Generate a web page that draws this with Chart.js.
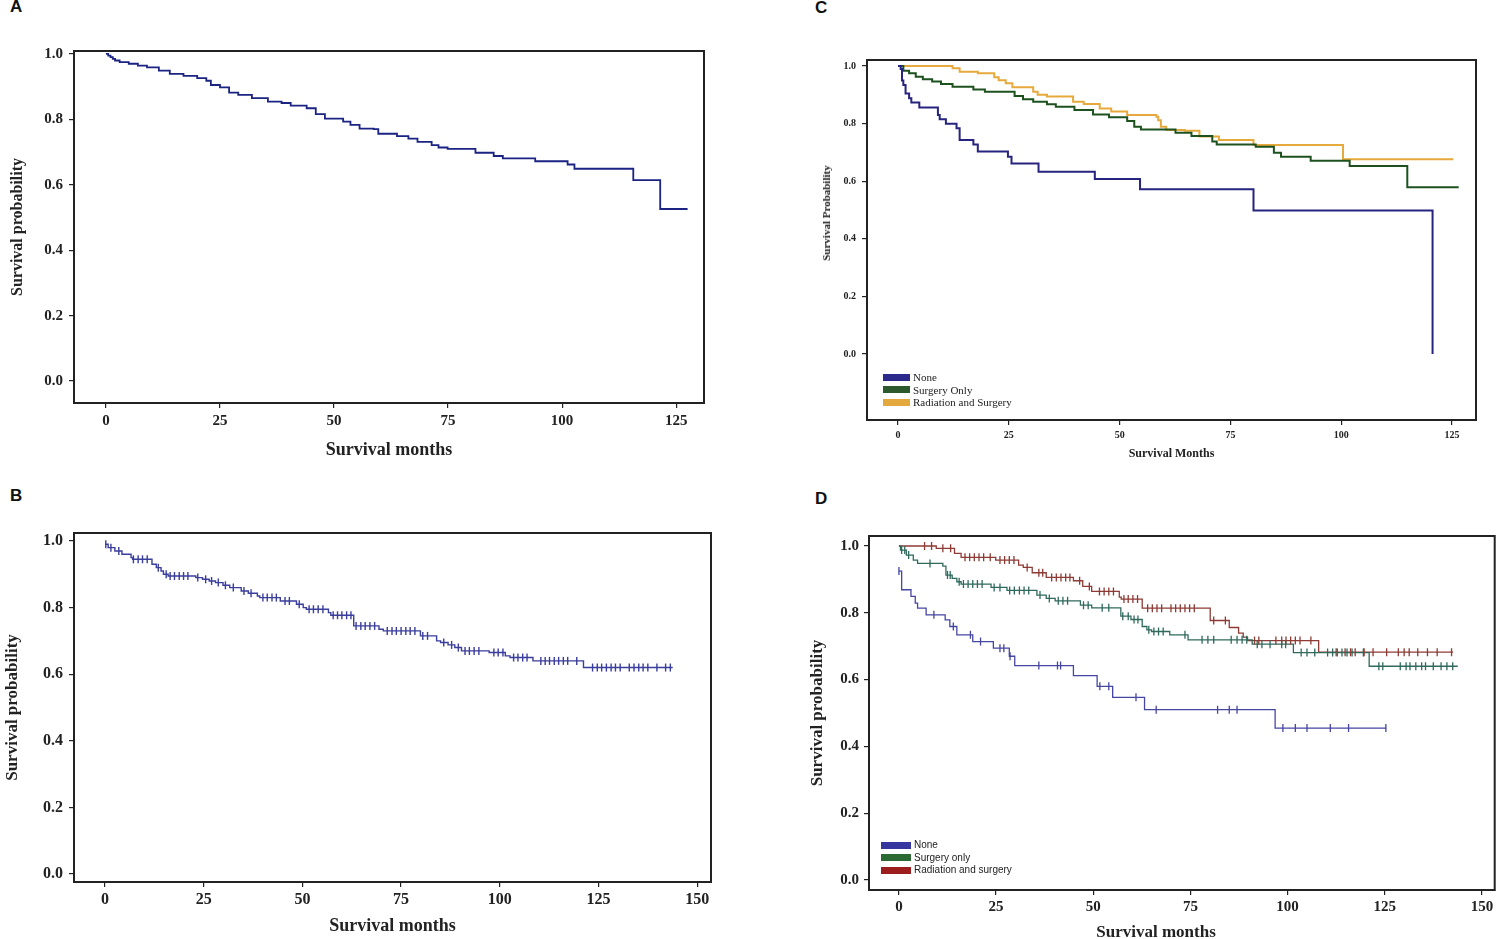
<!DOCTYPE html>
<html>
<head>
<meta charset="utf-8">
<script src="https://cdn.jsdelivr.net/npm/chart.js@4.4.1/dist/chart.umd.min.js"></script>
<style>
body{margin:0;width:1500px;height:939px;position:relative;overflow:hidden;background:#fff}
canvas{position:absolute}
.lbl{position:absolute;font-family:'Liberation Sans',Arial,sans-serif;font-weight:bold;font-size:17px;color:#111}
.leg{position:absolute;line-height:12.5px}
.leg div{display:flex;align-items:center;white-space:nowrap}
.leg span.sw{display:inline-block;height:7px;margin-right:3px}
.ttl{position:absolute;font-family:'Liberation Serif',serif;font-weight:bold;color:#222;white-space:nowrap;transform:translate(-50%,-50%)}
</style>
</head>
<body>
<div class="lbl" style="left:10px;top:-3px">A</div>
<div class="lbl" style="left:10px;top:486px">B</div>
<div class="lbl" style="left:815px;top:-2px">C</div>
<div class="lbl" style="left:815px;top:489px">D</div>
<canvas id="cA" width="720" height="450" style="left:0;top:30px"></canvas>
<canvas id="cB" width="720" height="439" style="left:0;top:500px"></canvas>
<canvas id="cC" width="700" height="445" style="left:800px;top:30px"></canvas>
<canvas id="cD" width="700" height="440" style="left:800px;top:505px"></canvas>
<div class="ttl" style="left:826px;top:213px;font-size:11px;transform:translate(-50%,-50%) rotate(-90deg)">Survival Probability</div>
<div class="ttl" style="left:1156px;top:932px;font-size:17px">Survival months</div>
<div class="leg" id="legC" style="left:883px;top:371px;font-family:'Liberation Serif',serif;font-size:11px;color:#222"></div>
<div class="leg" id="legD" style="left:881px;top:839px;font-family:'Liberation Sans',sans-serif;font-size:10px;color:#222"></div>
<script>
// tick labels
const xTicks125=[0,25,50,75,100,125];
const xTicks150=[0,25,50,75,100,125,150];
const yTicks=[0,0.2,0.4,0.6,0.8,1.0];

// A: overall survival
const aTime=[0,0.5,1,1.5,2,3,5,7,9,11.6,14,17,20,22,23,25,27,29,32,35.5,38.5,40.5,44,46,48,52,53.6,55.6,58.7,59.7,63.8,66.3,68.3,71.4,72.9,74.9,81,85,87,94.1,101.2,102.7,115.6,121.5,127.5];
const aSurv=[1.0,0.995,0.99,0.985,0.98,0.975,0.97,0.964,0.959,0.949,0.939,0.933,0.926,0.918,0.905,0.898,0.882,0.875,0.865,0.854,0.85,0.842,0.834,0.816,0.802,0.793,0.783,0.772,0.77,0.756,0.749,0.741,0.731,0.721,0.714,0.71,0.698,0.688,0.681,0.672,0.662,0.649,0.614,0.526,0.526];

// B: overall survival with censoring
const bTime=[0,0.8,2.5,4.3,6.6,7,11.9,13,14.2,14.8,16,23,24.7,26.4,28,29.9,31.6,34.5,36.3,38.6,39.2,44.4,48.5,50.2,51,56.6,57.2,63,69.4,70.5,79.9,84,85,86.9,88.6,90.3,97.3,101.4,102.6,108.4,121.2,143.8];
const bSurv=[0.99,0.98,0.97,0.96,0.95,0.945,0.93,0.92,0.91,0.90,0.895,0.89,0.885,0.88,0.875,0.867,0.86,0.85,0.843,0.835,0.83,0.82,0.81,0.80,0.795,0.785,0.777,0.745,0.735,0.73,0.715,0.70,0.695,0.688,0.68,0.67,0.665,0.655,0.65,0.64,0.62,0.62];
const bCens=[0.2,1.5,3.5,7.2,8.4,9.5,10.7,13.5,15.5,16.5,17.6,18.8,19.9,21,23.5,25.5,27,28.7,30.5,32.5,35.2,37,40,41.1,42.3,43.4,45.6,46.7,49.2,51.7,52.8,54,55.2,57.8,58.9,60,61.2,62.3,63.6,64.8,65.9,67.1,68.3,71.5,72.7,73.8,75,76.2,77.3,78.5,80.5,81.7,85.8,87.8,89.5,91.2,92.3,93.5,94.7,98.5,99.6,100.8,103.5,104.6,105.8,106.9,110.4,111.5,112.6,113.8,114.9,116.1,117.2,119.5,123.5,124.7,125.8,127,128.2,129.3,130.5,132.8,134,135.2,136.3,137.5,139.8,142,143.2];

// C: by treatment
const cNames=['None','Surgery Only','Radiation and Surgery'];
const cNoneTime=[0,0.6,0.9,1.2,1.7,2.5,3,4.8,9,9.4,10.8,13.2,13.9,17,18,24.8,25.6,31.7,44.4,54.6,80.2,120.6];
const cNoneSurv=[1.0,0.99,0.95,0.934,0.905,0.888,0.873,0.856,0.83,0.815,0.80,0.784,0.743,0.728,0.703,0.685,0.662,0.633,0.608,0.572,0.498,0.0];
const cSurgTime=[0,1.2,2.5,4,5.6,7.7,9.7,12.3,17,19.6,26.3,28.2,30.5,33.6,35.6,39.8,44,47.6,51.7,53.3,54.8,62.6,66.2,70.9,71.9,80.7,84.8,86.4,93.1,101.9,114.9,126.5];
const cSurgSurv=[1.0,0.984,0.975,0.963,0.954,0.946,0.938,0.928,0.919,0.911,0.896,0.885,0.876,0.867,0.859,0.847,0.832,0.822,0.809,0.789,0.78,0.768,0.757,0.738,0.728,0.72,0.699,0.685,0.671,0.653,0.579,0.579];
const cRadTime=[0,12.3,13.9,18,21.7,22.7,24.3,25.8,30.5,31.5,33.6,39.5,41.9,45.5,48.1,51.7,58.3,58.7,59.3,60.5,64.7,68,72.4,80.2,100.4,125.3];
const cRadSurv=[1.0,0.992,0.98,0.975,0.961,0.951,0.94,0.926,0.911,0.90,0.894,0.876,0.868,0.853,0.842,0.83,0.824,0.812,0.789,0.778,0.775,0.755,0.743,0.726,0.676,0.676];

// D: by treatment with censoring
const dNames=['None','Surgery only','Radiation and surgery'];
const dNoneTime=[0,0.7,3.1,4.2,4.8,7,11.9,13.1,14.9,19,24.3,28.4,29.8,44.9,51,55,63.2,96.8,125.4];
const dNoneSurv=[0.925,0.869,0.849,0.829,0.814,0.794,0.779,0.759,0.734,0.714,0.694,0.67,0.642,0.612,0.58,0.547,0.51,0.455,0.455];
const dNoneCens=[0,9,14,18.4,21,26,27,28.6,36,40.8,41.6,51.7,54,61,66.2,82,85,87,98.8,102,105,111,115.7,125.3];
const dSurgTime=[0,0.4,1.9,3.7,4.8,11.3,12.1,13.7,14.9,16,23.7,27.8,35.5,37.9,40.2,46.7,49.6,57.1,59.7,62.6,63.8,65,69.7,74.4,90.9,101.5,121,143.8];
const dSurgSurv=[1.0,0.988,0.973,0.958,0.948,0.94,0.913,0.903,0.893,0.886,0.876,0.867,0.853,0.843,0.836,0.823,0.815,0.79,0.78,0.759,0.749,0.744,0.734,0.719,0.706,0.681,0.64,0.64];
const dSurgCens=[0.7,1.5,2.5,8,12.5,13.2,15.5,16.6,17.8,19,20.2,21.4,24.5,26,28.5,29.7,31,32.2,33.4,36.3,38.7,41,42.2,43.4,47.5,48.7,52.3,54,57.6,59,60.5,61.5,64.3,65.6,66.8,68,73.6,78,79.5,81,85.5,87,88.3,89.5,92.2,93.4,95.5,98.5,99.5,103.5,105,107,110.3,111.6,112.8,114,115.3,116.6,119.5,123.5,124.5,129,130.5,131.5,133,134.5,135.5,137.5,139.5,141,142.5];
const dRadTime=[0,9.6,14.3,16,24.9,30.8,32,34.3,37.9,44.9,47.3,49.6,56.7,57.2,62.6,80.1,85,87.4,88.6,89.7,108,142.6];
const dRadSurv=[1.0,0.993,0.978,0.966,0.958,0.943,0.936,0.92,0.906,0.896,0.879,0.864,0.847,0.841,0.814,0.777,0.756,0.739,0.727,0.717,0.682,0.682];
const dRadCens=[6.6,8.4,11.3,13.3,17,18.2,19.4,20.6,21.8,23.5,26,27.2,28.4,29.6,33,36,37,39.3,40.5,41.7,42.9,44,46.5,49,51.6,52.8,54,55.2,57.9,59,60.2,61.4,64,65.2,66.4,67.6,70,71.2,72.4,73.6,74.8,76,81,84,91.5,92.6,97,98.5,99.6,100.8,102,103.2,106,112.5,114.8,116.2,117.4,119.7,122,125.5,128.5,130,131.3,133.5,136,138.5,142.2];

function km(t,s){return t.map((v,i)=>({x:v,y:s[i]}));}
function survAt(t,s,x){let r=s[0];for(let i=0;i<t.length;i++){if(t[i]<=x) r=s[i]; else break;}return r;}
function cens(ct,t,s){return ct.map(x=>({x:x,y:survAt(t,s,x)}));}

const boxPlugin={id:'box',afterDatasetsDraw(chart){
  const {ctx,chartArea:{left,right,top,bottom}}=chart;
  ctx.save();ctx.strokeStyle='#222';ctx.lineWidth=2;
  ctx.strokeRect(left,top,right-left,bottom-top);ctx.restore();
}};

// stepped 'before': hold previous value until the event time, then drop
function lineDs(t,s,color,w){
  return {type:'line',data:km(t,s),borderColor:color,borderWidth:w,stepped:'before',pointRadius:0,fill:false,tension:0,order:2};
}
function censDs(ct,t,s,color,w){
  return {type:'line',data:cens(ct,t,s),showLine:false,borderColor:color,backgroundColor:color,pointStyle:'line',pointRotation:90,pointRadius:4,pointBorderWidth:w,pointBorderColor:color,order:1};
}

function makeKM(id,p){
  const serif="'Liberation Serif','Times New Roman',serif";
  new Chart(document.getElementById(id),{
    type:'line',
    data:{datasets:p.datasets},
    options:{
      responsive:false,animation:false,devicePixelRatio:1,
      layout:{padding:p.pad},
      plugins:{legend:{display:false},tooltip:{enabled:false}},
      scales:{
        x:{type:'linear',min:p.xMin,max:p.xMax,
          afterBuildTicks:s=>{s.ticks=p.xTicks.map(v=>({value:v}));},
          afterFit:s=>{s.height=p.xH;},
          grid:{display:true,drawOnChartArea:false,drawTicks:true,tickLength:5,color:'#222',lineWidth:1.2},
          border:{display:true,color:'#222',width:2},
          ticks:{font:{family:serif,weight:'bold',size:p.tickSize},color:'#222',padding:p.xTickPad,maxRotation:0,autoSkip:false,callback:v=>v},
          title:{display:!!p.xTitle,text:p.xTitle||'',color:'#222',font:{family:serif,weight:'bold',size:p.xTitleSize},padding:{top:0,bottom:p.xTitlePad}}
        },
        y:{type:'linear',min:p.yMin,max:p.yMax,
          afterBuildTicks:s=>{s.ticks=yTicks.map(v=>({value:v}));},
          afterFit:s=>{s.width=p.yW;},
          grid:{display:true,drawOnChartArea:false,drawTicks:true,tickLength:5,color:'#222',lineWidth:1.2},
          border:{display:true,color:'#222',width:2},
          ticks:{font:{family:serif,weight:'bold',size:p.tickSize},color:'#222',padding:p.yTickPad,autoSkip:false,callback:v=>Number(v).toFixed(1)},
          title:{display:!!p.yTitle,text:p.yTitle||'',color:'#222',font:{family:serif,weight:'bold',size:p.yTitleSize},padding:{top:p.yTitlePad,bottom:0}}
        }
      }
    },
    plugins:[boxPlugin]
  });
}

makeKM('cA',{xMin:-7,xMax:131.1,yMin:-0.067,yMax:1.009,xTicks:xTicks125,xH:77,yW:74,
  pad:{left:0,right:16,top:21,bottom:0},tickSize:15,xTickPad:4,yTickPad:6,
  xTitle:'Survival months',xTitleSize:18,xTitlePad:19,yTitle:'Survival probability',yTitleSize:16,yTitlePad:8,
  datasets:[lineDs(aTime,aSurv,'#1b2383',1.8)]});

makeKM('cB',{xMin:-7.85,xMax:153.5,yMin:-0.024,yMax:1.024,xTicks:xTicks150,xH:57,yW:74,
  pad:{left:0,right:9,top:33,bottom:0},tickSize:16,xTickPad:3,yTickPad:6,
  xTitle:'Survival months',xTitleSize:18,xTitlePad:2,yTitle:'Survival probability',yTitleSize:17,yTitlePad:2,
  datasets:[lineDs(bTime,bSurv,'#3a3e9c',1.4),censDs(bCens,bTime,bSurv,'#3a3e9c',1.4)]});

const cColors=['#27247f','#1d521f','#e6a93b'];
makeKM('cC',{xMin:-7,xMax:130.4,yMin:-0.229,yMax:1.021,xTicks:xTicks125,xH:55,yW:67,
  pad:{left:0,right:24,top:30,bottom:0},tickSize:10,xTickPad:4,yTickPad:6,
  xTitle:'Survival Months',xTitleSize:12,xTitlePad:14,yTitle:null,
  datasets:[lineDs(cNoneTime,cNoneSurv,cColors[0],2),lineDs(cSurgTime,cSurgSurv,cColors[1],2),lineDs(cRadTime,cRadSurv,cColors[2],2)]});

const dColors=['#4646a3','#2f6a5c','#8e3b35'];
makeKM('cD',{xMin:-7.7,xMax:153.3,yMin:-0.03,yMax:1.03,xTicks:xTicks150,xH:55,yW:69,
  pad:{left:0,right:5,top:31,bottom:0},tickSize:15,xTickPad:3,yTickPad:5,
  xTitle:null,yTitle:'Survival probability',yTitleSize:17,yTitlePad:7,
  datasets:[lineDs(dNoneTime,dNoneSurv,dColors[0],1.3),censDs(dNoneCens,dNoneTime,dNoneSurv,dColors[0],1.3),
    lineDs(dSurgTime,dSurgSurv,dColors[1],1.3),censDs(dSurgCens,dSurgTime,dSurgSurv,dColors[1],1.3),
    lineDs(dRadTime,dRadSurv,dColors[2],1.3),censDs(dRadCens,dRadTime,dRadSurv,dColors[2],1.3)]});

function legend(id,names,colors,w){
  document.getElementById(id).innerHTML=names.map((n,i)=>
    `<div><span class="sw" style="width:${w}px;background:${colors[i]}"></span>${n}</div>`).join('');
}
legend('legC',cNames,['#2b2a8a','#2d5a2d','#e3a83e'],27);
legend('legD',dNames,['#3636a0','#2c6a33','#9b1d1d'],30);
</script>
</body>
</html>
